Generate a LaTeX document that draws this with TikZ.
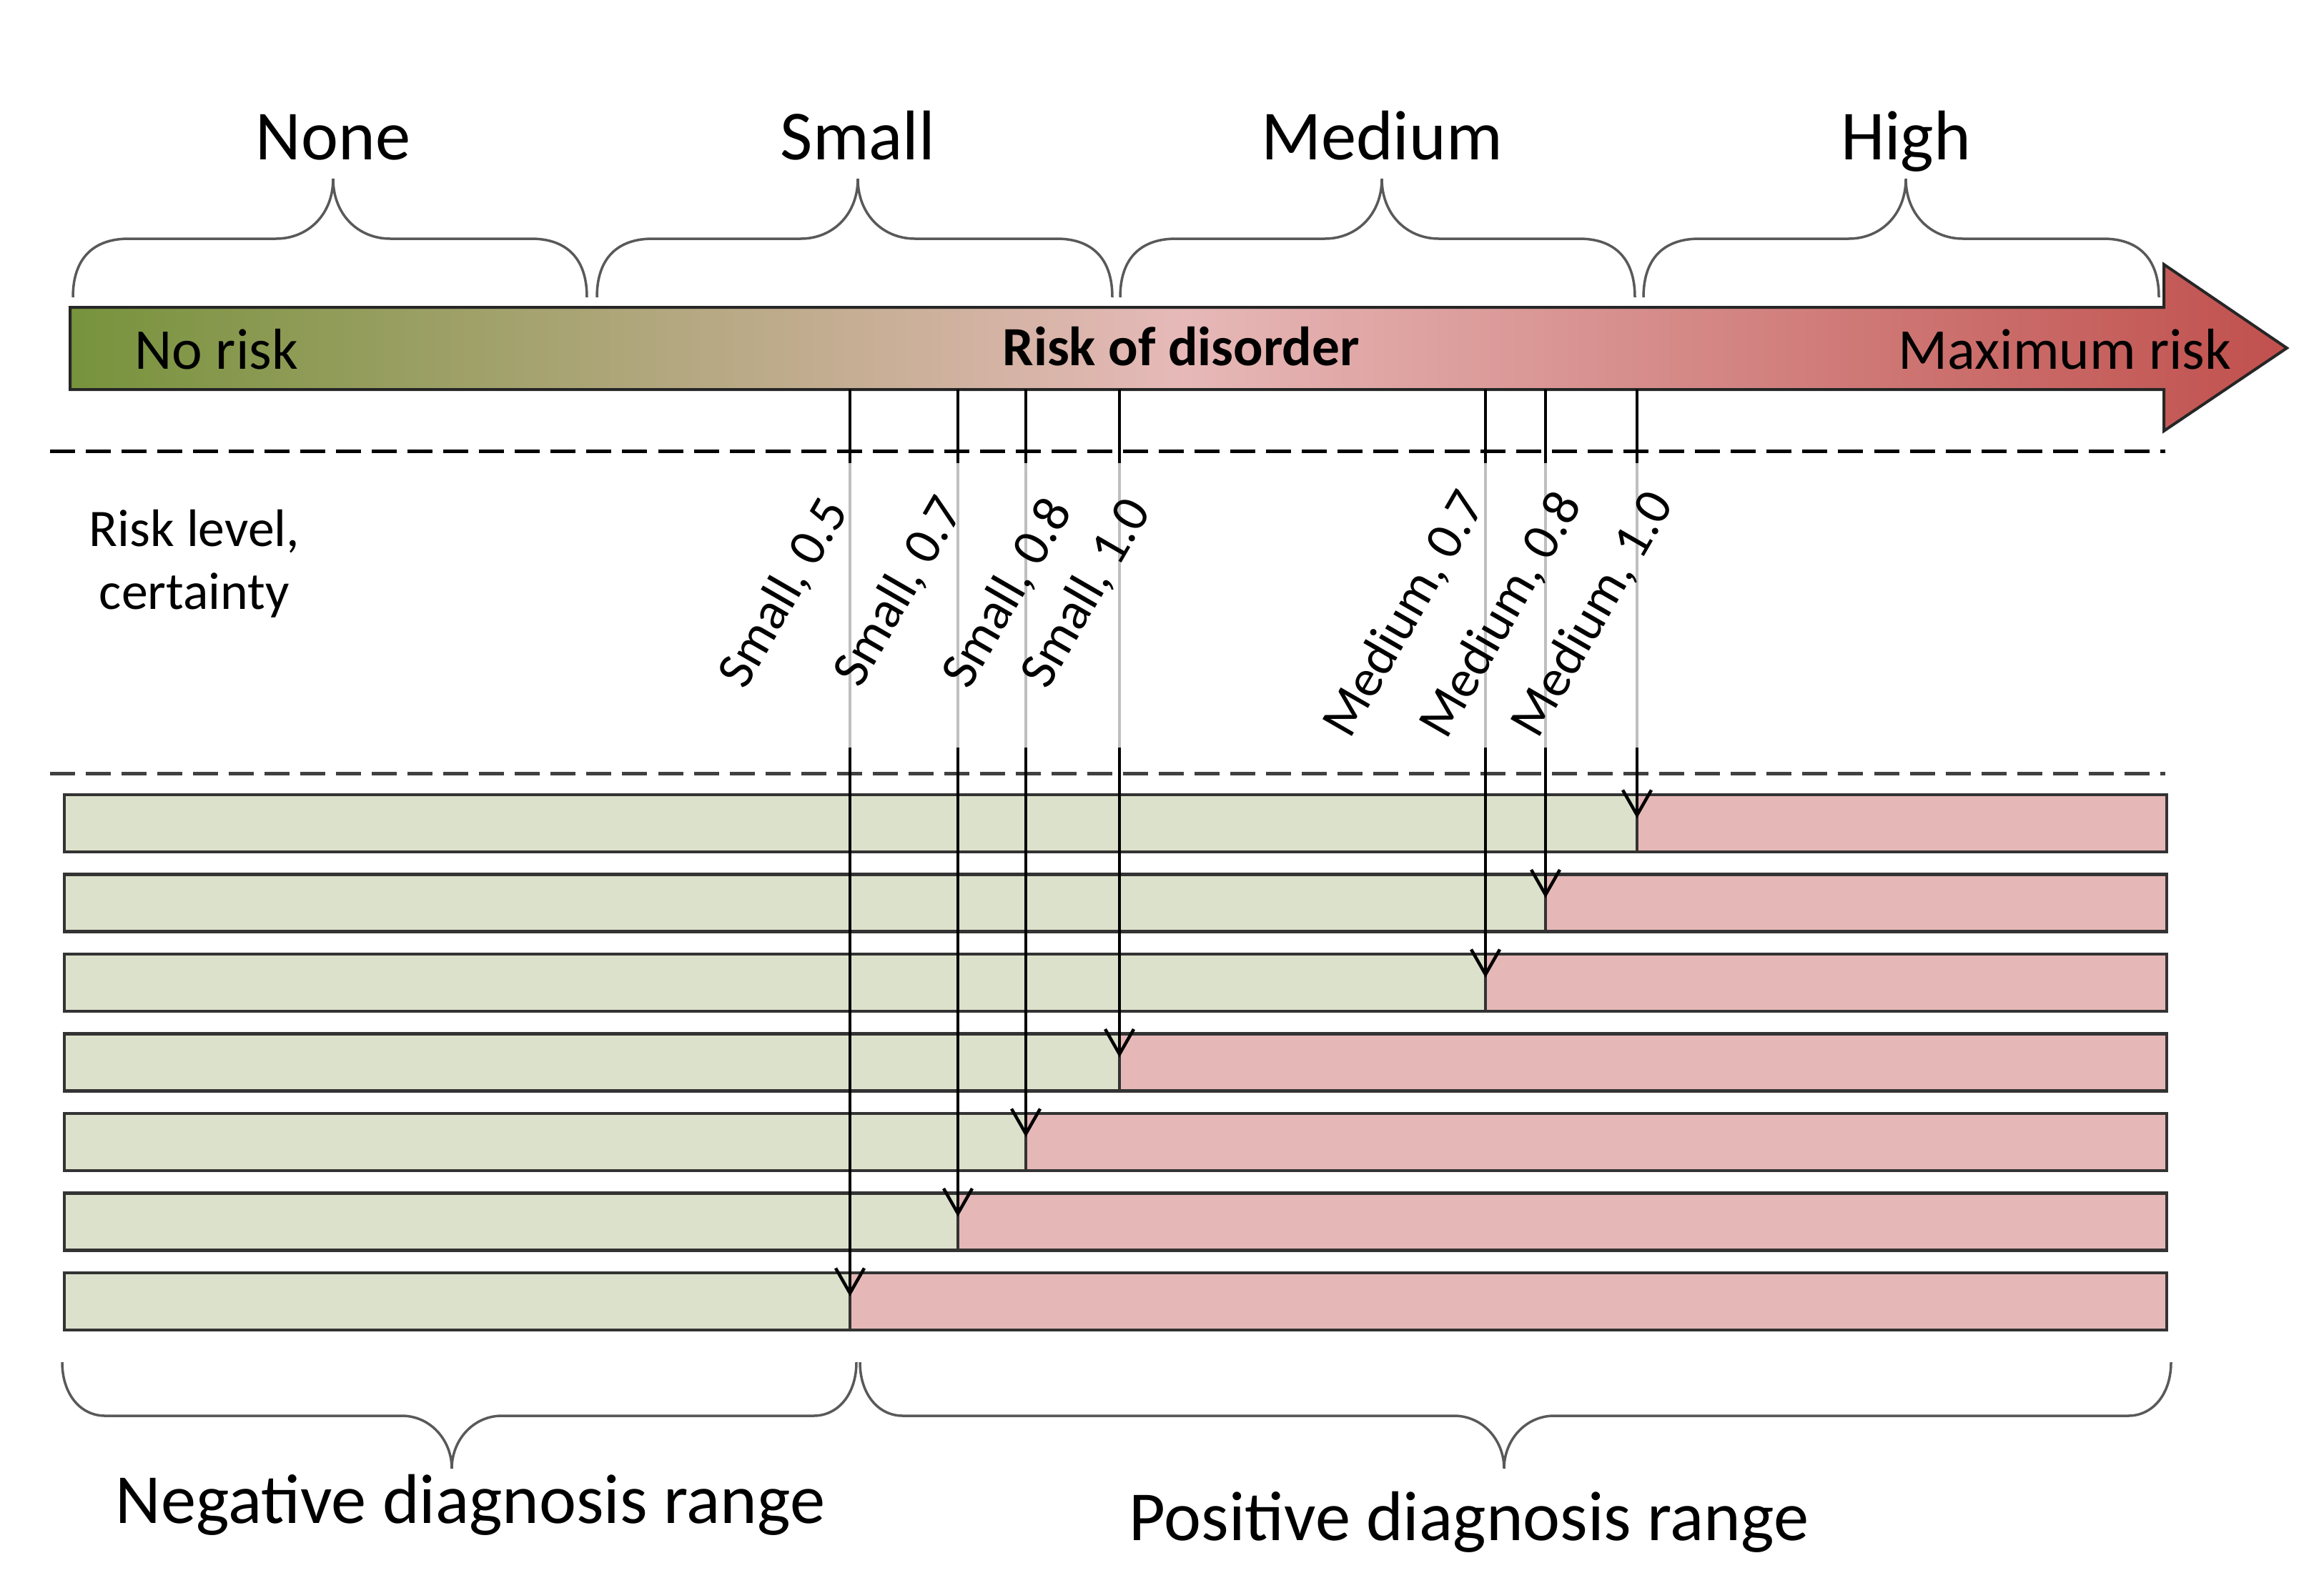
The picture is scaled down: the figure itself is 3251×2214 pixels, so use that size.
\documentclass[tikz,border=0pt]{standalone}
\usepackage{fontspec}
\setmainfont{Carlito}
\usepackage{tikz}
\usetikzlibrary{arrows.meta}
\definecolor{barGreen}{RGB}{119,147,60}
\definecolor{barPink}{RGB}{230,185,184}
\definecolor{barRed}{RGB}{192,80,77}
\definecolor{rowGreen}{RGB}{220,225,203}
\definecolor{rowPink}{RGB}{229,184,183}
\tikzset{
  big_label/.style = {inner sep=0pt, font=\fontsize{28}{34}\selectfont},
  bar_label/.style = {inner sep=0pt, font=\fontsize{23}{28}\selectfont},
  level_label/.style = {inner sep=0pt, rotate=60, font=\fontsize{21}{25}\selectfont},
  brace_line/.style = {draw=black!65, line width=0.035cm},
  sep_line/.style = {dash pattern=on 0.35cm off 0.15cm, line width=0.05cm},
  green_cell/.style = {draw=black!80, fill=rowGreen, line width=0.045cm,
    outer sep=0pt, inner sep=0pt, anchor=north west, minimum height=0.8cm},
  red_cell/.style = {draw=black!80, fill=rowPink, line width=0.045cm,
    outer sep=0pt, inner sep=0pt, anchor=north west, minimum height=0.8cm},
  cut_line/.style = {line width=0.045cm},
  band_line/.style = {draw=black!25, line width=0.045cm},
  cut_arrow/.style = {-{Straight Barb[length=0.35cm, width=0.4cm]}, line width=0.045cm}
}

\begin{document}
\begin{tikzpicture}[x=0.01cm, y=-0.01cm]
  \useasboundingbox (0,0) rectangle (3251,2214);

  % risk categories
  \foreach \a/\t/\b in {102/466/821, 835/1200/1556, 1567/1933/2287, 2299/2666/3020}
    \draw[brace_line] (\a,416) .. controls (\a,360) and (\a+30,334) .. (\a+78,334)
      -- (\t-80,334) .. controls (\t-35,334) and (\t,300) .. (\t,250)
      .. controls (\t,300) and (\t+35,334) .. (\t+80,334)
      -- (\b-78,334) .. controls (\b-30,334) and (\b,360) .. (\b,416);
  \node[big_label, anchor=base] (none) at (466,223) {None};
  \node[big_label, anchor=base] (small) at (1200,223) {Small};
  \node[big_label, anchor=base] (medium) at (1933,223) {Medium};
  \node[big_label, anchor=base] (high) at (2666,223) {High};

  % risk arrow
  \draw[line width=0.04cm, draw=black!85, left color=barGreen, right color=barRed,
    middle color=barPink] (98,430) -- (3027,430) -- (3027,370) -- (3199,487)
    -- (3027,603) -- (3027,545) -- (98,545) -- cycle;
  \node[bar_label, anchor=base west] (no_risk) at (188,516) {No risk};
  \node[bar_label, anchor=base east] (max_risk) at (3122,516) {Maximum risk};
  \node[bar_label, anchor=base, font=\fontsize{22}{26}\selectfont\bfseries]
    (disorder) at (1652,511) {Risk of disorder};

  % separators
  \draw[sep_line, black] (70,631) -- (3029,631);
  \draw[sep_line, black!75] (70,1082) -- (3029,1082);
  \node[font=\fontsize{21}{25}\selectfont, align=center, inner sep=0pt]
    (risk_level) at (272,789) {Risk level,\\certainty};

  % decision rows
  \foreach \i/\x/\n in {1/2290/m10, 2/2162/m08, 3/2078/m07, 4/1566/s10,
                        5/1435/s08, 6/1340/s07, 7/1189/s05} {
    \pgfmathsetmacro{\rowtop}{1112+111.5*(\i-1)}
    \pgfmathsetmacro{\gw}{(\x-90)*0.01}
    \pgfmathsetmacro{\rw}{(3031-\x)*0.01}
    \node[green_cell, minimum width=\gw cm] (green\i) at (90,\rowtop) {};
    \node[red_cell, minimum width=\rw cm] (red\i) at (\x,\rowtop) {};
    \coordinate (top_\n) at (\x,545);
    \coordinate (up_\n) at (\x,648);
    \coordinate (low_\n) at (\x,1046);
    \draw[cut_line] (top_\n) -- (up_\n);
    \draw[band_line] (up_\n) -- (low_\n);
    \draw[cut_arrow] (low_\n) -- ([yshift=-0.33cm]red\i.north west);
  }

  % risk level, certainty
  \foreach \x/\y/\txt in {1097/830/{Small, 0.5}, 1258/828/{Small, 0.7},
                          1410/830/{Small, 0.8}, 1520/830/{Small, 1.0},
                          1966/860/{Medium, 0.7}, 2101/861/{Medium, 0.8},
                          2229/860/{Medium, 1.0}}
    \node[level_label] at (\x,\y) {\txt};

  % diagnosis ranges
  \foreach \a/\t/\b in {87/632/1198, 1203/2104/3037}
    \draw[brace_line] (\a,1906) .. controls (\a,1950) and (\a+25,1981) .. (\a+60,1981)
      -- (\t-70,1981) .. controls (\t-30,1981) and (\t,2015) .. (\t,2055)
      .. controls (\t,2015) and (\t+30,1981) .. (\t+70,1981)
      -- (\b-60,1981) .. controls (\b-25,1981) and (\b,1950) .. (\b,1906);
  \node[big_label, anchor=base] (negative) at (658,2131) {Negative diagnosis range};
  \node[big_label, anchor=base] (positive) at (2055,2155) {Positive diagnosis range};
\end{tikzpicture}
\end{document}
